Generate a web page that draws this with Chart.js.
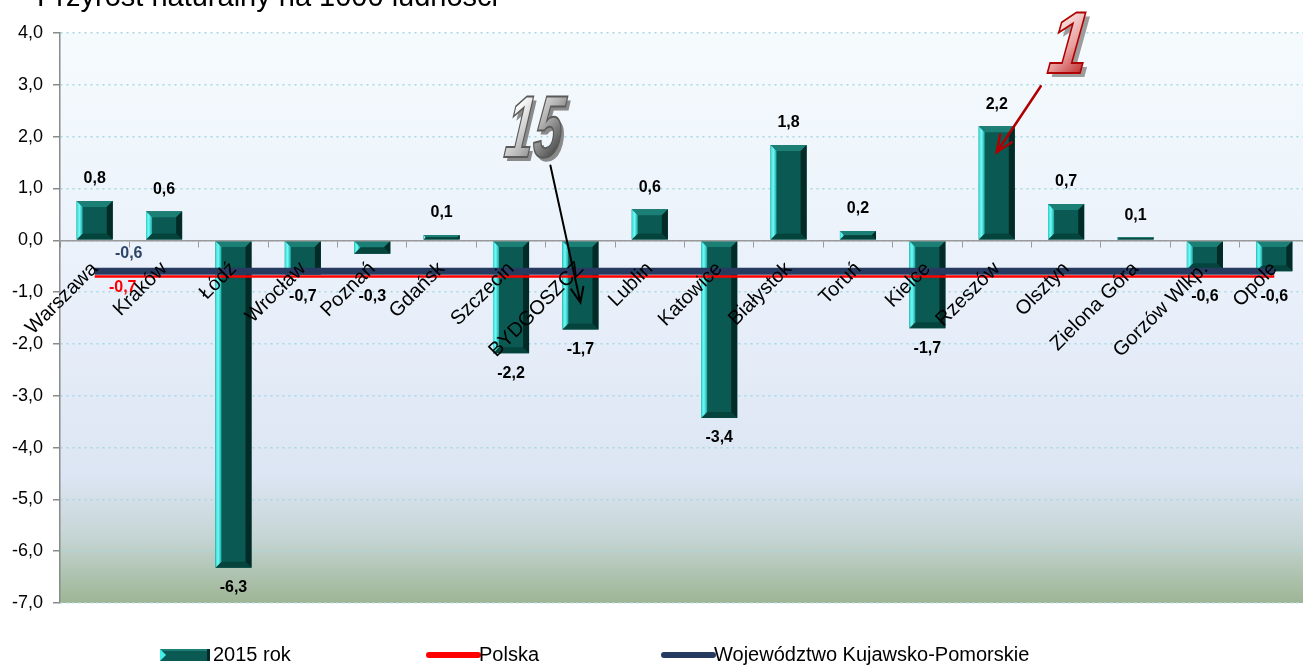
<!DOCTYPE html>
<html>
<head>
<meta charset="utf-8">
<script src="https://cdn.jsdelivr.net/npm/chart.js@4.4.1/dist/chart.umd.min.js"></script>
<style>
  html, body { margin: 0; padding: 0; background: #fff; overflow: hidden; }
  #wrap { position: relative; width: 1309px; height: 666px; }
</style>
</head>
<body>
<div id="wrap"><canvas id="chart"></canvas></div>
<script>
// dane: przyrost naturalny na 1000 ludności, miasta wojewódzkie, 2015
const cities = ['Warszawa', 'Kraków', 'Łódź', 'Wrocław', 'Poznań', 'Gdańsk', 'Szczecin', 'BYDGOSZCZ', 'Lublin',
  'Katowice', 'Białystok', 'Toruń', 'Kielce', 'Rzeszów', 'Olsztyn', 'Zielona Góra', 'Gorzów Wlkp.', 'Opole'];
const rok2015 = [0.76, 0.56, -6.32, -0.66, -0.26, 0.1, -2.18, -1.72, 0.6, -3.43, 1.84, 0.18, -1.7, 2.2, 0.7, 0.06, -0.56, -0.6];
const polska  = [-0.7, -0.7, -0.7, -0.7, -0.7, -0.7, -0.7, -0.7, -0.7, -0.7, -0.7, -0.7, -0.7, -0.7, -0.7, -0.7, -0.7, -0.7];
const kujPom  = [-0.6, -0.6, -0.6, -0.6, -0.6, -0.6, -0.6, -0.6, -0.6, -0.6, -0.6, -0.6, -0.6, -0.6, -0.6, -0.6, -0.6, -0.6];
const yMin = -7, yMax = 4, yStep = 1;
const seriesNames = ['2015 rok', 'Polska', 'Województwo Kujawsko-Pomorskie'];
const titleText = 'Przyrost naturalny na 1000 ludności';

const FONT = '"Liberation Sans", Arial, sans-serif';
const fmt = v => v.toFixed(1).replace('.', ',');

// 3D bevel on bars, like the Excel "bevel" preset
function drawBevel(ctx, el) {
  const p = el.getProps(['x', 'y', 'base', 'width'], true);
  const l = p.x - p.width / 2, r = p.x + p.width / 2;
  const t = Math.min(p.y, p.base), b = Math.max(p.y, p.base);
  const e = Math.min(6, (b - t) / 2, p.width / 2);
  const poly = (pts, fill) => {
    ctx.beginPath();
    ctx.moveTo(pts[0][0], pts[0][1]);
    pts.slice(1).forEach(q => ctx.lineTo(q[0], q[1]));
    ctx.closePath();
    ctx.fillStyle = fill;
    ctx.fill();
  };
  poly([[l, t], [r, t], [r - e, t + e], [l + e, t + e]], '#1b7f76');
  poly([[l, b], [r, b], [r - e, b - e], [l + e, b - e]], '#05443d');
  poly([[r, t], [r - e, t + e], [r - e, b - e], [r, b]], '#022b28');
  const g = ctx.createLinearGradient(l, 0, l + e + 0.01, 0);
  g.addColorStop(0, '#2fd6d4');
  g.addColorStop(0.45, '#72fbf6');
  g.addColorStop(1, '#18a9a5');
  poly([[l, t], [l + e, t + e], [l + e, b - e], [l, b]], g);
}

const bevelPlugin = {
  id: 'bevel',
  afterDatasetDraw(chart, args) {
    if (args.meta.type !== 'bar') return;
    const ctx = chart.ctx;
    ctx.save();
    args.meta.data.forEach(el => drawBevel(ctx, el));
    ctx.restore();
  }
};

const bgPlugin = {
  id: 'bg',
  beforeDraw(chart) {
    const { ctx, chartArea: a } = chart;
    ctx.save();
    ctx.fillStyle = '#fff';
    ctx.fillRect(0, 0, chart.width, chart.height);
    const g = ctx.createLinearGradient(0, a.top, 0, a.bottom);
    g.addColorStop(0, '#f5fbfd');
    g.addColorStop(0.45, '#e9f0fa');
    g.addColorStop(0.78, '#dce5f3');
    g.addColorStop(0.89, '#c4d4d2');
    g.addColorStop(1, '#9db594');
    ctx.fillStyle = g;
    ctx.fillRect(a.left, a.top, a.right - a.left, a.bottom - a.top);
    ctx.restore();
  }
};

const labelsPlugin = {
  id: 'valueLabels',
  afterDatasetsDraw(chart) {
    const ctx = chart.ctx;
    const yScale = chart.scales.y;
    ctx.save();
    ctx.textAlign = 'center';
    ctx.textBaseline = 'middle';
    ctx.font = 'bold 16px ' + FONT;
    const barMeta = chart.getDatasetMeta(0);
    barMeta.data.forEach((el, i) => {
      const v = rok2015[i];
      const top = Math.min(el.y, el.base), bot = Math.max(el.y, el.base);
      // negative labels are kept clear of the reference lines
      const below = Math.max(bot, yScale.getPixelForValue(polska[i]));
      ctx.fillStyle = '#000';
      ctx.fillText(fmt(v), el.x, v >= 0 ? top - 22 : below + 20);
    });
    // line series: label only at first point
    const kp = chart.getDatasetMeta(2).data[0];
    ctx.fillStyle = '#2d4569';
    ctx.fillText(fmt(kujPom[0]), kp.x + 34, kp.y - 18);
    const pl = chart.getDatasetMeta(1).data[0];
    ctx.fillStyle = '#ff0000';
    ctx.fillText(fmt(polska[0]), pl.x + 28, pl.y + 11);
    ctx.restore();
  }
};

function arrow(ctx, x1, y1, x2, y2, color, w, head) {
  const ang = Math.atan2(y2 - y1, x2 - x1);
  ctx.strokeStyle = color;
  ctx.lineWidth = w;
  ctx.lineCap = 'round';
  ctx.beginPath();
  ctx.moveTo(x1, y1);
  ctx.lineTo(x2, y2);
  ctx.moveTo(x2 - head * Math.cos(ang - 0.4), y2 - head * Math.sin(ang - 0.4));
  ctx.lineTo(x2, y2);
  ctx.lineTo(x2 - head * Math.cos(ang + 0.4), y2 - head * Math.sin(ang + 0.4));
  ctx.stroke();
}

function wordArt(ctx, text, cx, cy, sx, fillStops, stroke, shadow) {
  ctx.save();
  ctx.translate(cx, cy);
  ctx.transform(sx, 0, -0.12, 1, 0, 0);
  ctx.font = 'bold italic 88px ' + FONT;
  ctx.textAlign = 'center';
  ctx.textBaseline = 'middle';
  ctx.fillStyle = shadow;
  ctx.fillText(text, 6, 4);
  const g = ctx.createLinearGradient(-30, -32, 30, 32);
  fillStops.forEach((c, i) => g.addColorStop(i / (fillStops.length - 1), c));
  ctx.fillStyle = g;
  ctx.fillText(text, 0, 0);
  ctx.lineWidth = 2;
  ctx.strokeStyle = stroke;
  ctx.strokeText(text, 0, 0);
  ctx.restore();
}

const notesPlugin = {
  id: 'notes',
  afterDraw(chart) {
    const { ctx, scales: { x, y } } = chart;
    ctx.save();
    // 15 -> Bydgoszcz
    let tx = x.getPixelForValue(cities.indexOf('BYDGOSZCZ')), ty = y.getPixelForValue(-1.2);
    wordArt(ctx, '15', tx - 46, ty - 170, 0.58, ['#ffffff', '#b4b4b4', '#4a4a4a'], '#5a5a5a', '#8a8a8a');
    arrow(ctx, tx - 30, ty - 137, tx, ty, '#000', 2, 16);
    // 1 -> Rzeszów
    tx = x.getPixelForValue(cities.indexOf('Rzeszów')); ty = y.getPixelForValue(1.7);
    wordArt(ctx, '1', tx + 72, ty - 103, 0.8, ['#ffffff', '#e8a0a0', '#b00000'], '#b00000', '#9c9c9c');
    arrow(ctx, tx + 44, ty - 66, tx, ty, '#b00000', 2.5, 18);

    // title (cut off at the top of the picture)
    ctx.fillStyle = '#000';
    ctx.font = '29px ' + FONT;
    ctx.textAlign = 'left';
    ctx.textBaseline = 'alphabetic';
    ctx.fillText(titleText, 37, 6);

    // legend
    const ly = 655;
    const lx = [160, 426, 661];
    ctx.font = '20px ' + FONT;
    ctx.textBaseline = 'middle';
    chart.data.datasets.forEach((ds, i) => {
      const x0 = lx[i];
      if (ds.type === 'bar') {
        ctx.fillStyle = '#0a5a53';
        ctx.fillRect(x0, ly - 6, 50, 12);
        ctx.fillStyle = '#1b7f76';
        ctx.fillRect(x0, ly - 6, 50, 2);
        ctx.fillStyle = '#44eeea';
        ctx.beginPath();
        ctx.moveTo(x0, ly - 6); ctx.lineTo(x0 + 6, ly); ctx.lineTo(x0, ly + 6);
        ctx.closePath(); ctx.fill();
        ctx.fillStyle = '#022b28';
        ctx.fillRect(x0 + 47, ly - 6, 3, 12);
      } else {
        ctx.strokeStyle = ds.borderColor;
        ctx.lineWidth = 6;
        ctx.lineCap = 'round';
        ctx.beginPath();
        ctx.moveTo(x0 + 3, ly); ctx.lineTo(x0 + 52, ly);
        ctx.stroke();
      }
      ctx.fillStyle = '#000';
      ctx.fillText(ds.label, x0 + 53, ly);
    });
    ctx.restore();
  }
};

new Chart(document.getElementById('chart'), {
  data: {
    labels: cities,
    datasets: [
      { type: 'bar', label: seriesNames[0], data: rok2015, backgroundColor: '#0a5a53', borderWidth: 0,
        barPercentage: 0.52, categoryPercentage: 1, order: 3 },
      { type: 'line', label: seriesNames[1], data: polska, borderColor: '#ff0000', borderWidth: 2.5,
        pointRadius: 0, tension: 0, order: 2 },
      { type: 'line', label: seriesNames[2], data: kujPom, borderColor: '#263b5f', borderWidth: 7,
        pointRadius: 0, tension: 0, order: 1 }
    ]
  },
  options: {
    responsive: true,
    maintainAspectRatio: false,
    animation: false,
    layout: { padding: { top: 33, bottom: 63, left: 0, right: 0 } },
    plugins: { legend: { display: false }, tooltip: { enabled: false }, title: { display: false } },
    scales: {
      x: {
        position: { y: 0 },
        offset: true,
        grid: { display: true, drawOnChartArea: false, drawTicks: true, tickLength: 6, tickColor: '#9a9a9a', offset: true },
        border: { display: true, color: '#9a9a9a', width: 1.5, z: 1 },
        ticks: { z: 1, autoSkip: false, minRotation: 45, maxRotation: 45, padding: 11, color: '#000',
          font: { family: FONT, size: 20 } },
        afterFit: s => { s.height = 0; s.paddingLeft = 0; s.paddingRight = 0; }
      },
      y: {
        min: yMin, max: yMax,
        ticks: { stepSize: yStep, color: '#000', padding: 10, font: { family: FONT, size: 18 },
          callback: v => fmt(v) },
        grid: { color: '#a6d8e4', lineWidth: 1.5, drawTicks: true, tickLength: 7, tickColor: '#8a8a8a' },
        border: { display: true, color: '#8a8a8a', width: 1.5, dash: [2, 4] },
        afterFit: s => { s.width = 60; }
      }
    }
  },
  plugins: [bgPlugin, bevelPlugin, labelsPlugin, notesPlugin]
});
</script>
</body>
</html>
